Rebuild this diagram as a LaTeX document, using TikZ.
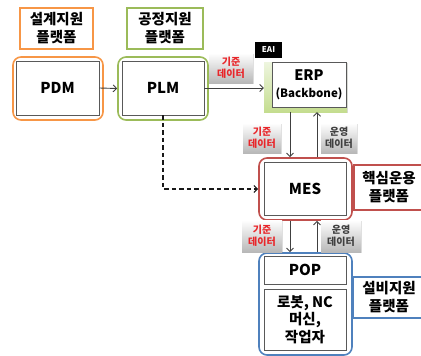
\documentclass[tikz,border=0pt]{standalone}
\usepackage{fontspec}
\setmainfont{Noto Sans CJK KR}
\usetikzlibrary{arrows.meta,shadows}
\definecolor{cor}{HTML}{F79646}
\definecolor{cgr}{HTML}{9BBB59}
\definecolor{crd}{HTML}{C0504D}
\definecolor{cbl}{HTML}{4F81BD}
\definecolor{lgtop}{HTML}{EEF5DF}
\definecolor{lgbot}{HTML}{C4DD8F}
\definecolor{redtxt}{HTML}{E8262A}
\definecolor{graytxt}{HTML}{404040}
\begin{document}
\begin{tikzpicture}[x=1pt,y=-1pt,
  plat/.style={draw, line width=1.6pt, fill=white, align=center, inner sep=0pt,
    font=\bfseries\fontsize{14.5}{18}\selectfont},
  outer/.style={draw, line width=1.6pt, rounded corners=8pt, inner sep=0pt},
  inner/.style={draw=black!65, line width=0.9pt, fill=white, align=center, inner sep=0pt,
    font=\bfseries\fontsize{15}{18}\selectfont,
    drop shadow={shadow xshift=0.8pt, shadow yshift=-0.8pt, opacity=0.35}},
  lab/.style={top color=white, bottom color=black!28, align=center, inner sep=0pt,
    font=\bfseries\fontsize{10}{12}\selectfont,
    drop shadow={shadow xshift=0.8pt, shadow yshift=-0.8pt, opacity=0.25}},
  arr/.style={draw=black!75, line width=0.9pt, -{Straight Barb[length=3.5pt,width=7pt]}},
]
\useasboundingbox (0,0) rectangle (421,356);

% platform labels
\node[plat, draw=cor, minimum width=73pt, minimum height=41pt] (p1) at (56.5,28.5) {설계지원\\플랫폼};
\node[plat, draw=cgr, minimum width=76pt, minimum height=41pt] (p2) at (165,28.5) {공정지원\\플랫폼};

% PDM
\node[outer, draw=cor, minimum width=90pt, minimum height=63pt] (pdmo) at (58,88.5) {};
\node[inner, minimum width=83pt, minimum height=54pt] (pdm) at (57.5,88) {PDM};
% PLM
\node[outer, draw=cgr, minimum width=90pt, minimum height=63pt] (plmo) at (163,88.5) {};
\node[inner, minimum width=82pt, minimum height=54pt] (plm) at (163,88) {PLM};

% ERP
\node[top color=lgtop, bottom color=lgbot, inner sep=0pt, minimum width=83pt, minimum height=50pt,
  drop shadow={shadow xshift=0.8pt, shadow yshift=-0.8pt, opacity=0.3}] (erpg) at (305.5,87) {};
\node[inner, minimum width=74pt, minimum height=45pt] (erp) at (309,84.5)
  {{\fontsize{14.5}{17}\selectfont ERP}\\[-1pt]{\fontsize{11.5}{14}\selectfont (Backbone)}};
\node[fill=black, text=white, inner sep=0pt, minimum width=27pt, minimum height=16pt,
  font=\bfseries\fontsize{8}{9}\selectfont] (eai) at (268.5,50) {EAI};

% MES
\node[outer, draw=crd, minimum width=93pt, minimum height=62pt] (meso) at (305.5,189) {};
\node[inner, minimum width=82pt, minimum height=53pt] (mes) at (305,188.5) {MES};
\node[plat, draw=crd, minimum width=70pt, minimum height=45pt] (core) at (389,187.5) {핵심운용\\플랫폼};

% POP
\node[outer, draw=cbl, minimum width=93pt, minimum height=102pt] (popo) at (305.5,304) {};
\node[inner, minimum width=82pt, minimum height=28pt] (pop) at (305,270) {POP};
\node[inner, minimum width=82pt, minimum height=61pt, font=\bfseries\fontsize{14.5}{17.5}\selectfont] (robot) at (305,319.5) {로봇, NC\\머신,\\작업자};
\node[plat, draw=cbl, minimum width=72pt, minimum height=41pt] (equip) at (389,297.5) {설비지원\\플랫폼};

% data labels
\node[lab, text=redtxt, minimum width=44pt, minimum height=30pt] (l1) at (231,68) {기준\\데이터};
\node[lab, text=redtxt, minimum width=38pt, minimum height=30pt] (l2) at (262,138) {기준\\데이터};
\node[lab, text=graytxt, minimum width=36pt, minimum height=30pt] (l3) at (339,138) {운영\\데이터};
\node[lab, text=redtxt, minimum width=40pt, minimum height=32pt] (l4) at (262,236) {기준\\데이터};
\node[lab, text=graytxt, minimum width=40pt, minimum height=32pt] (l5) at (341,236) {운영\\데이터};

% connectors
\coordinate (dx) at (290,0);
\coordinate (ux) at (317,0);
\draw[arr] (pdm.east) -- (plmo.west);
\draw[arr] (plm.east) -- (plm.east -| erpg.west);
\draw[arr] (erpg.south -| dx) -- (meso.north -| dx);
\draw[arr] (meso.north -| ux) -- (erpg.south -| ux);
\draw[arr] (meso.south -| dx) -- (popo.north -| dx);
\draw[arr] (popo.north -| ux) -- (meso.south -| ux);
\draw[arr, draw=black!90, line width=1.1pt, dash pattern=on 4.5pt off 3pt] (plm.south) -- (plm.south |- meso.west) -- (meso.west);
\end{tikzpicture}
\end{document}
